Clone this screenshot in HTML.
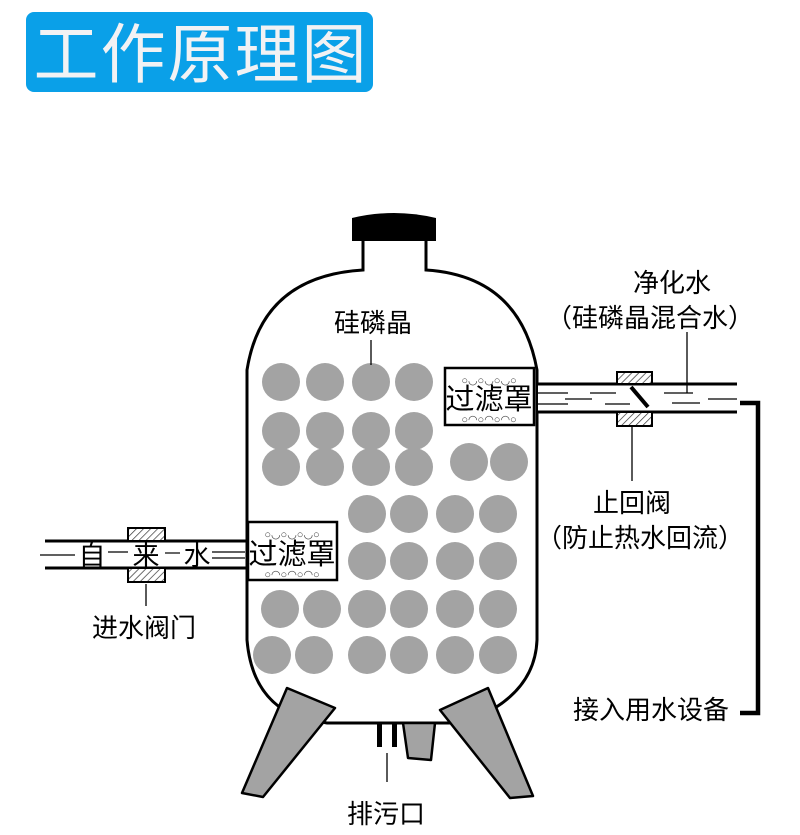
<!DOCTYPE html>
<html><head><meta charset="utf-8"><style>
html,body{margin:0;padding:0;background:#fff;}
svg{display:block;}
text{font-family:"Liberation Sans","Noto Sans CJK SC",sans-serif;}
</style></head><body>
<svg width="800" height="835" viewBox="0 0 800 835" xmlns="http://www.w3.org/2000/svg">
<defs>
<pattern id="h" width="5" height="5" patternUnits="userSpaceOnUse" patternTransform="rotate(45)">
<rect width="5" height="5" fill="#fff"/><line x1="0" y1="0" x2="0" y2="5" stroke="#333" stroke-width="1.4"/>
</pattern>
</defs>
<rect x="26" y="12" width="347" height="80" rx="8" fill="#0aa0e8"/>
<text x="201" y="77" font-size="65" fill="#f2f2f4" text-anchor="middle" letter-spacing="2">工作原理图</text>

<!-- cap -->
<path d="M352,241 L352,218 Q394,208 436,218 L436,241 Z" fill="#000"/>
<!-- tank -->
<path d="M363,241 L363,270 Q262,276 247,370 L247,640 Q252,700 300,718 L327,723 L450,723 L480,716 Q535,690 537,640 L537,370 Q520,276 426,270 L426,241" fill="none" stroke="#000" stroke-width="3"/>

<g fill="#a3a3a3">
<circle cx="281" cy="382" r="19"/><circle cx="325" cy="382" r="19"/><circle cx="371" cy="382" r="19"/><circle cx="414" cy="382" r="19"/>
<circle cx="281" cy="431" r="19"/><circle cx="325" cy="431" r="19"/><circle cx="371" cy="431" r="19"/><circle cx="414" cy="431" r="19"/>
<circle cx="281" cy="467" r="19"/><circle cx="325" cy="467" r="19"/><circle cx="371" cy="467" r="19"/><circle cx="414" cy="467" r="19"/>
<circle cx="469" cy="462" r="19"/><circle cx="509" cy="462" r="19"/>
<circle cx="367" cy="514" r="19"/><circle cx="409" cy="514" r="19"/><circle cx="455" cy="514" r="19"/><circle cx="498" cy="514" r="19"/>
<circle cx="367" cy="561" r="19"/><circle cx="409" cy="561" r="19"/><circle cx="455" cy="561" r="19"/><circle cx="498" cy="561" r="19"/>
<circle cx="280" cy="609" r="19"/><circle cx="322" cy="609" r="19"/><circle cx="367" cy="609" r="19"/><circle cx="409" cy="609" r="19"/><circle cx="455" cy="609" r="19"/><circle cx="498" cy="609" r="19"/>
<circle cx="272" cy="655" r="19"/><circle cx="314" cy="655" r="19"/><circle cx="367" cy="655" r="19"/><circle cx="409" cy="655" r="19"/><circle cx="455" cy="655" r="19"/><circle cx="498" cy="655" r="19"/>
</g>

<!-- legs -->
<g fill="#a3a3a3" stroke="#000" stroke-width="2.5" stroke-linejoin="round">
<polygon points="287,688 335,708 263,797 242,793"/>
<polygon points="488,688 440,710 510,798 533,796"/>
<polygon points="403,723 435,723 431,760 408,758"/>
</g>
<rect x="377" y="723" width="5" height="24" fill="#000"/>
<rect x="392" y="723" width="5" height="24" fill="#000"/>
<line x1="387" y1="753" x2="387" y2="782" stroke="#000" stroke-width="1.3"/>
<text x="386" y="823" font-size="26" text-anchor="middle">排污口</text>

<!-- top label -->
<text x="373" y="332" font-size="26" text-anchor="middle">硅磷晶</text>
<line x1="371" y1="340" x2="371" y2="365" stroke="#000" stroke-width="1.3"/>

<!-- right pipe -->
<rect x="538" y="385" width="199" height="26" fill="#fff"/>
<line x1="536" y1="384" x2="737" y2="384" stroke="#000" stroke-width="3"/>
<line x1="536" y1="412" x2="737" y2="412" stroke="#000" stroke-width="3"/>
<g stroke="#000" stroke-width="1.2">
<line x1="537" y1="393" x2="568" y2="393"/><line x1="537" y1="404" x2="568" y2="404"/>
<line x1="565" y1="399" x2="592" y2="399"/><line x1="590" y1="393" x2="616" y2="393"/><line x1="605" y1="404" x2="630" y2="404"/>
<line x1="664" y1="393" x2="693" y2="393"/><line x1="672" y1="403" x2="700" y2="403"/><line x1="708" y1="399" x2="737" y2="399"/>
</g>
<rect x="617" y="372" width="35" height="12" fill="url(#h)" stroke="#000" stroke-width="2"/>
<rect x="617" y="412" width="35" height="14" fill="url(#h)" stroke="#000" stroke-width="2"/>
<line x1="631" y1="387" x2="648" y2="407" stroke="#000" stroke-width="4"/>
<line x1="687" y1="332" x2="687" y2="393" stroke="#000" stroke-width="1.3"/>
<line x1="632" y1="426" x2="632" y2="481" stroke="#000" stroke-width="1.3"/>
<text x="672" y="292" font-size="26" text-anchor="middle">净化水</text>
<text x="650" y="327" font-size="26" text-anchor="middle">（硅磷晶混合水）</text>
<text x="632" y="512" font-size="26" text-anchor="middle">止回阀</text>
<text x="640" y="547" font-size="26" text-anchor="middle">（防止热水回流）</text>
<path d="M740,403 L758,403 L758,713 L740,713" fill="none" stroke="#000" stroke-width="4.5"/>
<text x="651" y="719" font-size="26" text-anchor="middle">接入用水设备</text>

<!-- right filter -->
<rect x="445" y="368" width="89" height="57" fill="#fff" stroke="#000" stroke-width="2.5"/>
<text x="489" y="384" font-size="11" text-anchor="middle" fill="#444">○◡○◡○◡○</text>
<text x="489" y="423" font-size="11" text-anchor="middle" fill="#444">○◠○◠○◠○</text>
<text x="489" y="409" font-size="29" text-anchor="middle">过滤罩</text>

<!-- left pipe -->
<line x1="45" y1="541" x2="247" y2="541" stroke="#000" stroke-width="3"/>
<line x1="45" y1="568" x2="247" y2="568" stroke="#000" stroke-width="3"/>
<g stroke="#000" stroke-width="1.2">
<line x1="40" y1="555" x2="75" y2="555"/><line x1="108" y1="552" x2="128" y2="552"/>
<line x1="165" y1="553" x2="180" y2="553"/><line x1="212" y1="552" x2="245" y2="552"/><line x1="212" y1="558" x2="245" y2="558"/>
</g>
<rect x="128" y="528" width="37" height="13" fill="url(#h)" stroke="#000" stroke-width="2"/>
<rect x="128" y="568" width="37" height="14" fill="url(#h)" stroke="#000" stroke-width="2"/>
<text x="92" y="565" font-size="27" text-anchor="middle">自</text>
<text x="146" y="565" font-size="27" text-anchor="middle">来</text>
<text x="197" y="565" font-size="27" text-anchor="middle">水</text>
<line x1="146" y1="584" x2="146" y2="606" stroke="#000" stroke-width="1.3"/>
<text x="144" y="637" font-size="26" text-anchor="middle">进水阀门</text>

<!-- left filter -->
<rect x="248" y="522" width="89" height="58" fill="#fff" stroke="#000" stroke-width="2.5"/>
<text x="292" y="538" font-size="11" text-anchor="middle" fill="#444">○◡○◡○◡○</text>
<text x="292" y="578" font-size="11" text-anchor="middle" fill="#444">○◠○◠○◠○</text>
<text x="292" y="564" font-size="29" text-anchor="middle">过滤罩</text>
</svg>
</body></html>
